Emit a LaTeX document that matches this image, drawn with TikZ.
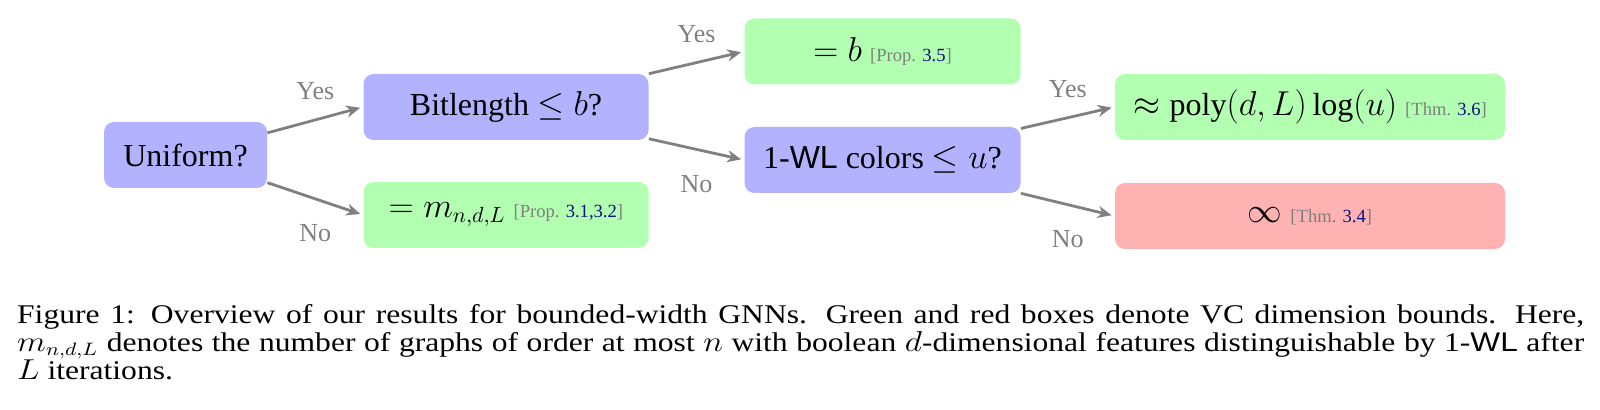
\documentclass[tikz,border=0pt]{standalone}
\usepackage{fontspec}
\usepackage{amsmath}
\setmainfont{Liberation Serif}
\setsansfont{Liberation Sans}
\usetikzlibrary{arrows.meta}

\definecolor{refblue}{rgb}{0.05,0.05,0.5}
\newcommand{\refnote}[2]{{\fontsize{9.3}{11}\selectfont\color{gray}[#1 \textcolor{refblue}{#2}]}}
\newcommand{\capline}[1]{\hbox to 669.7pt{#1}}

\begin{document}
\begin{tikzpicture}[x=0.5pt,y=-0.5pt,
	box/.style={rounded corners=5pt, minimum height=33pt, inner sep=2pt, font=\fontsize{16}{18}\selectfont},
	ask/.style={box, fill=blue!30},
	good/.style={box, fill=green!30},
	bad/.style={box, fill=red!30},
	arr/.style={-{Stealth[length=7pt,width=6pt]}, draw=gray, line width=1.4pt, shorten >=1.5pt},
	ans/.style={text=gray, font=\fontsize{13}{15}\selectfont},
	captext/.style={anchor=base west, inner sep=0pt, xscale=1.17, transform shape, font=\fontsize{13.5}{14}\selectfont}]
	\useasboundingbox (0,0) rectangle (1600,410);
		\node[ask, minimum width=81.5pt] (uni) at (185.5,155) {Uniform?};
		\node[ask, minimum width=142.5pt] (bit) at (506,107) {Bitlength $\leq b$?};
		\node[good, minimum width=142.5pt] (mnd) at (506,215) {$=m_{n,d,L}$ \refnote{Prop.}{3.1,3.2}};
		\node[good, minimum width=138pt] (eqb) at (882.5,51.5) {$=b$ \refnote{Prop.}{3.5}};
		\node[ask, minimum width=138pt] (wl) at (882.5,160) {1-\textsf{WL} colors $\leq u$?};
		\node[good, minimum width=195pt] (poly) at (1310,107) {$\approx\textrm{poly}(d,L)\,\textrm{log}(u)$ \refnote{Thm.}{3.6}};
		\node[bad, minimum width=195pt] (inf) at (1310,216) {$\infty$ \refnote{Thm.}{3.4}};
	%	edges
		\draw[arr] (uni) -- (bit.west) node[ans, midway, above=6pt] (y1) {Yes};
		\draw[arr] (uni) -- (mnd.west) node[ans, midway, below=9pt] (n1) {No};
		\draw[arr] (bit) -- (eqb.west) node[ans, midway, above=6pt] (y2) {Yes};
		\draw[arr] (bit) -- (wl.west) node[ans, midway, below=9pt] (n2) {No};
		\draw[arr] (wl) -- (poly.west) node[ans, midway, above=6pt] (y3) {Yes};
		\draw[arr] (wl) -- (inf.west) node[ans, midway, below=9pt] (n3) {No};
	%	caption
		\node[captext] (cap1) at (16.7,323.3) {\capline{Figure 1: Overview of our results for bounded-width GNNs. Green and red boxes denote VC dimension bounds. Here,}};
		\node[captext] (cap2) at (16.7,351.3) {\capline{$m_{n,d,L}$ denotes the number of graphs of order at most $n$ with boolean $d$-dimensional features distinguishable by 1-\textsf{WL} after}};
		\node[captext] (cap3) at (16.7,379.3) {$L$ iterations.};
	\end{tikzpicture}
\end{document}
